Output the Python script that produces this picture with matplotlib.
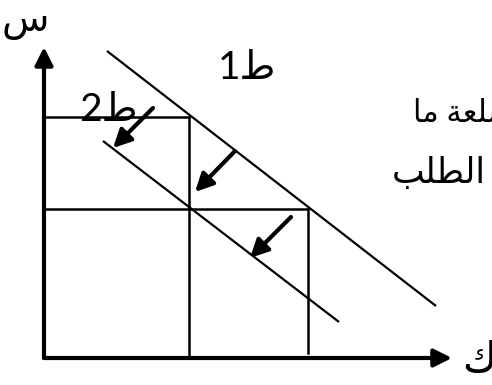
import matplotlib
matplotlib.use("Agg")
import matplotlib.pyplot as plt

# diagram coordinates (pixels, origin top-left)
axis_origin = (44, 358)
y_axis_top = (44, 47)
x_axis_end = (452, 358)

demand1_x = [107, 436]
demand1_y = [51, 306]
demand2_x = [103, 339]
demand2_y = [141, 322]

price_levels = [117, 209]
quantity_levels = [189, 308]
quantity_bottoms = [358, 353]

shift_starts = [(153, 108), (235, 151), (291, 217)]
shift_tips = [(113, 148), (195, 192), (250, 258)]

# arabic text already in visual order with joined forms
label_price = "\u0633"                  # س
label_quantity = "\u0643"               # ك
label_d1 = "1\uFEC1"                    # ط1
label_d2 = "2\uFEC1"                    # ط2
text_line1 = "\uFE8E\uFEE3 \uFE94\uFECC\uFEE0\uFEB3"   # سلعة ما
text_line2 = "\uFE90\uFEE0\uFEC4\uFEDF\u0627"        # الطلب

fig = plt.figure(figsize=(4.92, 3.85), dpi=100)
ax = fig.add_axes([0, 0, 1, 1])
ax.set_xlim(0, 492)
ax.set_ylim(385, 0)
ax.axis("off")

fonts = ["Lato", "DejaVu Sans"]
ax_style = dict(arrowstyle="-|>,head_length=0.4,head_width=0.2", color="black",
                lw=3, mutation_scale=27, shrinkA=0, shrinkB=0)

# axes with arrows
ax.annotate("", xy=y_axis_top, xytext=axis_origin, arrowprops=ax_style)
ax.annotate("", xy=x_axis_end, xytext=axis_origin, arrowprops=ax_style)

# demand curves
ax.plot(demand1_x, demand1_y, color="black", lw=1.6, solid_capstyle="butt")
ax.plot(demand2_x, demand2_y, color="black", lw=1.6, solid_capstyle="butt")

# price / quantity guides
for p, q, b in zip(price_levels, quantity_levels, quantity_bottoms):
    ax.plot([axis_origin[0], q], [p, p], color="black", lw=1.8)
    ax.plot([q, q], [p, b], color="black", lw=1.8)

# shift arrows
for s, t in zip(shift_starts, shift_tips):
    ax.annotate("", xy=t, xytext=s, arrowprops=ax_style)

ax.text(25, 31, label_price, fontsize=28, family=fonts, ha="center", va="baseline")
ax.text(462, 372, label_quantity, fontsize=30, family=fonts, ha="left", va="baseline")
ax.text(247, 79, label_d1, fontsize=28, family=fonts, ha="center", va="baseline")
ax.text(108, 121, label_d2, fontsize=28, family=fonts, ha="center", va="baseline")
ax.text(413, 122, text_line1, fontsize=22, family=fonts, ha="left", va="baseline")
ax.text(486, 183, text_line2, fontsize=25, family=fonts, ha="right", va="baseline")

fig.savefig("out.png", dpi=100)
